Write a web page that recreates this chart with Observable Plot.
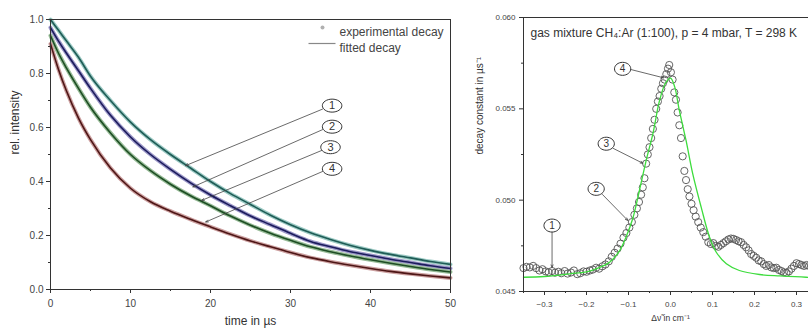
<!DOCTYPE html>
<html>
<head>
<meta charset="utf-8">
<script src="https://cdn.jsdelivr.net/npm/d3@7"></script>
<script src="https://cdn.jsdelivr.net/npm/@observablehq/plot@0.6"></script>
<style>
  html, body { margin: 0; padding: 0; background: #fff; overflow: hidden; }
  #wrap { position: relative; width: 808px; height: 332px; overflow: hidden; }
  #left { position: absolute; left: 0; top: 0; width: 460px; height: 332px; }
  #right { position: absolute; left: 460px; top: 0; width: 369px; height: 332px; }
  #wrap svg { max-width: none !important; display: block; }
</style>
</head>
<body>
<div id="wrap"><div id="left"></div><div id="right"></div></div>
<script>
// ---------- Left panel data: relative intensity vs time (µs) ----------
const times  = [0, 1, 2, 3.5, 5, 7.5, 10, 12.5, 15, 17.5, 20, 22.5, 25, 27.5, 30, 32.5, 35, 37.5, 40, 42.5, 45, 47.5, 50];
const decay1 = [1.00, 0.96, 0.92, 0.86, 0.79, 0.70, 0.62, 0.555, 0.50, 0.45, 0.40, 0.355, 0.315, 0.275, 0.24, 0.21, 0.185, 0.163, 0.145, 0.13, 0.117, 0.104, 0.093];
const decay2 = [0.97, 0.92, 0.875, 0.81, 0.745, 0.645, 0.565, 0.50, 0.445, 0.395, 0.35, 0.31, 0.272, 0.24, 0.208, 0.178, 0.158, 0.14, 0.126, 0.112, 0.10, 0.088, 0.078];
const decay3 = [0.94, 0.875, 0.82, 0.745, 0.675, 0.58, 0.50, 0.44, 0.39, 0.347, 0.31, 0.272, 0.238, 0.208, 0.182, 0.158, 0.14, 0.124, 0.11, 0.097, 0.085, 0.074, 0.065];
const decay4 = [0.91, 0.815, 0.735, 0.635, 0.555, 0.45, 0.375, 0.325, 0.29, 0.26, 0.232, 0.205, 0.18, 0.158, 0.137, 0.118, 0.103, 0.09, 0.078, 0.067, 0.058, 0.05, 0.043];
const curveIds = ["1", "2", "3", "4"];
const lightColors = ["#9ccac4", "#9c98c8", "#98bc98", "#cca0a0"];
const darkColors  = ["#1f5c56", "#1c1c5c", "#1e4e24", "#4e1616"];
const legendLabels = ["experimental decay", "fitted decay"];
const xTicksLeft = [0, 10, 20, 30, 40, 50];
const xMinorLeft = [5, 15, 25, 35, 45];
const yTicksLeft = [0, 0.2, 0.4, 0.6, 0.8, 1.0];
const yMinorLeft = [0.1, 0.3, 0.5, 0.7, 0.9];
// annotation callouts (left)
const leftLabelT = [35.2, 35.2, 35.0, 35.2];
const leftLabelV = [0.681, 0.603, 0.527, 0.447];
const leftArrowT1 = [34.0, 34.0, 33.9, 34.0];
const leftArrowV1 = [0.668, 0.592, 0.515, 0.437];
const leftArrowT2 = [16.9, 17.8, 18.9, 19.4];
const leftArrowV2 = [0.459, 0.380, 0.330, 0.250];

// ---------- Right panel data: decay constant vs detuning ----------
const expX = [-0.350,-0.343,-0.335,-0.327,-0.320,-0.312,-0.305,-0.297,-0.290,-0.282,-0.275,-0.267,-0.260,-0.252,-0.245,-0.237,-0.230,-0.222,-0.215,-0.207,-0.200,-0.192,-0.185,-0.177,-0.170,-0.162,-0.155,-0.147,-0.140,-0.133,-0.126,-0.119,-0.112,-0.105,-0.098,-0.092,-0.086,-0.080,-0.075,-0.070,-0.066,-0.062,-0.058,-0.054,-0.050,-0.046,-0.042,-0.038,-0.034,-0.030,-0.026,-0.022,-0.018,-0.014,-0.010,-0.006,-0.003,0.001,0.005,0.009,0.013,0.017,0.021,0.025,0.029,0.033,0.037,0.041,0.045,0.050,0.055,0.060,0.066,0.072,0.078,0.084,0.090,0.096,0.102,0.108,0.114,0.120,0.126,0.132,0.138,0.144,0.150,0.156,0.162,0.168,0.174,0.180,0.186,0.192,0.198,0.204,0.210,0.216,0.222,0.228,0.234,0.240,0.246,0.252,0.258,0.264,0.270,0.276,0.282,0.288,0.294,0.300,0.306,0.312,0.318,0.324,0.330,0.336,0.342,0.348];
const expK = [0.04628,0.04635,0.04632,0.04640,0.04628,0.04615,0.04622,0.04610,0.04605,0.04612,0.04603,0.04608,0.04600,0.04612,0.04598,0.04604,0.04615,0.04595,0.04600,0.04610,0.04608,0.04615,0.04620,0.04630,0.04625,0.04638,0.04648,0.04665,0.04690,0.04712,0.04735,0.04762,0.04795,0.04820,0.04850,0.04880,0.04920,0.04955,0.04990,0.05030,0.05070,0.05120,0.05200,0.05250,0.05290,0.05340,0.05390,0.05440,0.05500,0.05540,0.05570,0.05610,0.05640,0.05660,0.05690,0.05720,0.05740,0.05700,0.05660,0.05590,0.05550,0.05480,0.05410,0.05340,0.05240,0.05160,0.05110,0.05060,0.05020,0.04980,0.04945,0.04910,0.04880,0.04850,0.04825,0.04800,0.04770,0.04760,0.04765,0.04750,0.04745,0.04755,0.04765,0.04775,0.04785,0.04790,0.04788,0.04782,0.04775,0.04770,0.04755,0.04742,0.04725,0.04705,0.04695,0.04685,0.04670,0.04665,0.04650,0.04640,0.04645,0.04632,0.04628,0.04630,0.04618,0.04612,0.04605,0.04602,0.04610,0.04625,0.04640,0.04655,0.04650,0.04645,0.04640,0.04645,0.04640,0.04648,0.04642,0.04645];
const fitX = [-0.35,-0.30,-0.24,-0.20,-0.177,-0.145,-0.121,-0.106,-0.090,-0.074,-0.058,-0.042,-0.026,-0.012,0.0,0.010,0.021,0.037,0.053,0.073,0.093,0.109,0.133,0.164,0.212,0.26,0.323,0.35];
const fitK = [0.04578,0.04582,0.04597,0.04608,0.04624,0.04660,0.04724,0.04797,0.04898,0.05053,0.05217,0.05363,0.05546,0.05640,0.05668,0.05620,0.05491,0.05327,0.05144,0.04962,0.04797,0.04715,0.04652,0.04615,0.04593,0.04585,0.04578,0.04578];
const xTicksRight = [-0.3, -0.2, -0.1, 0.0, 0.1, 0.2, 0.3];
const xMinorRight = [-0.35, -0.25, -0.15, -0.05, 0.05, 0.15, 0.25, 0.35];
const yTicksRight = [0.045, 0.050, 0.055, 0.060];
const yMinorRight = [0.0475, 0.0525, 0.0575];
const rightTitle = "gas mixture CH\u2084:Ar (1:100), p = 4 mbar, T = 298 K";
// annotation callouts (right)
const rightLabelX = [-0.282, -0.177, -0.153, -0.114];
const rightLabelK = [0.04861, 0.05062, 0.05309, 0.05719];
const rightArrowX1 = [-0.282, -0.162, -0.136, -0.094];
const rightArrowK1 = [0.04826, 0.05031, 0.05283, 0.05715];
const rightArrowX2 = [-0.282, -0.1016, -0.0659, -0.0167];
const rightArrowK2 = [0.04632, 0.04889, 0.05202, 0.05670];

// ---------- helpers ----------
const FONT = "'Liberation Sans', Arial, Helvetica, sans-serif";
const ellipse = (k) => ({
  draw(ctx, size) {
    const r = Math.sqrt(size / Math.PI), rx = r * k, ry = r, c = 0.5523;
    ctx.moveTo(rx, 0);
    ctx.bezierCurveTo(rx, ry * c, rx * c, ry, 0, ry);
    ctx.bezierCurveTo(-rx * c, ry, -rx, ry * c, -rx, 0);
    ctx.bezierCurveTo(-rx, -ry * c, -rx * c, -ry, 0, -ry);
    ctx.bezierCurveTo(rx * c, -ry, rx, -ry * c, rx, 0);
    ctx.closePath();
  }
});
const hline = { draw(ctx, size) { const r = Math.sqrt(size / Math.PI); ctx.moveTo(-r, 0); ctx.lineTo(r, 0); } };

// ---------- Left plot ----------
const curveValues = [decay1, decay2, decay3, decay4];
const curveMarks = [];
curveValues.forEach((vals, j) => {
  const rows = times.map((t, i) => ({ t, v: vals[i] }));
  curveMarks.push(Plot.line(rows, { x: "t", y: "v", stroke: lightColors[j], strokeWidth: 4, curve: "monotone-x" }));
  curveMarks.push(Plot.line(rows, { x: "t", y: "v", stroke: darkColors[j], strokeWidth: 1.6, curve: "monotone-x" }));
});
const leftAnn = curveIds.map((id, i) => ({
  id, t: leftLabelT[i], v: leftLabelV[i],
  t1: leftArrowT1[i], v1: leftArrowV1[i], t2: leftArrowT2[i], v2: leftArrowV2[i]
}));

const left = Plot.plot({
  width: 460, height: 332,
  marginLeft: 50, marginRight: 10, marginTop: 19, marginBottom: 43,
  x: { domain: [0, 50] },
  y: { domain: [0, 1] },
  style: { fontFamily: FONT, fontSize: "10px", color: "#333", background: "white" },
  marks: [
    ...curveMarks,
    Plot.arrow(leftAnn, { x1: "t1", y1: "v1", x2: "t2", y2: "v2", stroke: "#444", strokeWidth: 0.8, headLength: 5, headAngle: 45 }),
    Plot.dot(leftAnn, { x: "t", y: "v", r: 6.5, symbol: ellipse(1.5), fill: "white", stroke: "#333", strokeWidth: 1 }),
    Plot.text(leftAnn, { x: "t", y: "v", text: "id", fontSize: 11, fill: "#333" }),
    // legend
    Plot.dot([legendLabels[0]], { frameAnchor: "top-left", dx: 272, dy: 8, r: 2, fill: "#b0b0b0", stroke: "none" }),
    Plot.text([legendLabels[0]], { frameAnchor: "top-left", dx: 289, dy: 8, text: d => d, textAnchor: "start", fontSize: 12, fill: "#444" }),
    Plot.dot([legendLabels[1]], { frameAnchor: "top-left", dx: 271.5, dy: 24, r: 13.5, symbol: hline, stroke: "#888", strokeWidth: 1.2, fill: "none" }),
    Plot.text([legendLabels[1]], { frameAnchor: "top-left", dx: 289, dy: 24, text: d => d, textAnchor: "start", fontSize: 12, fill: "#444" }),
    Plot.frame({ stroke: "#333", strokeWidth: 1 }),
    Plot.axisX({ ticks: xTicksLeft, tickSize: 4, tickPadding: 6, tickFormat: d3.format("d"), label: null, fill: "#444" }),
    Plot.axisX({ ticks: xMinorLeft, tickSize: 2, text: null, label: null }),
    Plot.axisY({ ticks: yTicksLeft, tickSize: 4, tickPadding: 3, tickFormat: d3.format(".1f"), label: null, fill: "#444" }),
    Plot.axisY({ ticks: yMinorLeft, tickSize: 2, text: null, label: null }),
    Plot.text(["time in µs"], { frameAnchor: "bottom", dy: 35, text: d => d, fontSize: 12, fill: "#333" }),
    Plot.text(["rel. intensity"], { frameAnchor: "left", dx: -35, rotate: -90, text: d => d, fontSize: 12, fill: "#333" })
  ]
});
document.getElementById("left").appendChild(left);

// ---------- Right plot ----------
const expRows = expX.map((x, i) => ({ x, k: expK[i] }));
const fitRows = fitX.map((x, i) => ({ x, k: fitK[i] }));
const rightAnn = curveIds.map((id, i) => ({
  id, x: rightLabelX[i], k: rightLabelK[i],
  x1: rightArrowX1[i], k1: rightArrowK1[i], x2: rightArrowX2[i], k2: rightArrowK2[i]
}));

const right = Plot.plot({
  width: 369, height: 332,
  marginLeft: 63, marginRight: 12, marginTop: 17, marginBottom: 41,
  x: { domain: [-0.35, 0.35] },
  y: { domain: [0.045, 0.060] },
  style: { fontFamily: FONT, fontSize: "8px", color: "#333", background: "white" },
  marks: [
    Plot.dot(expRows, { x: "x", y: "k", r: 3.6, fill: "none", stroke: "#555", strokeWidth: 0.9 }),
    Plot.line(fitRows, { x: "x", y: "k", stroke: "#3ddc3d", strokeWidth: 1.3, curve: "catmull-rom" }),
    Plot.arrow(rightAnn, { x1: "x1", y1: "k1", x2: "x2", y2: "k2", stroke: "#444", strokeWidth: 0.8, headLength: 5, headAngle: 45 }),
    Plot.dot(rightAnn, { x: "x", y: "k", r: 6.5, symbol: ellipse(1.25), fill: "white", stroke: "#333", strokeWidth: 1 }),
    Plot.text(rightAnn, { x: "x", y: "k", text: "id", fontSize: 10, fill: "#333" }),
    Plot.text([rightTitle], { frameAnchor: "top-left", dx: 7, dy: 11, text: d => d, textAnchor: "start", fontSize: 12, fill: "#333" }),
    Plot.frame({ stroke: "#333", strokeWidth: 1 }),
    Plot.axisX({ ticks: xTicksRight, tickSize: 4, tickPadding: 6, tickFormat: d3.format(".1f"), label: null, fill: "#444" }),
    Plot.axisX({ ticks: xMinorRight, tickSize: 2, text: null, label: null }),
    Plot.axisY({ ticks: yTicksRight, tickSize: 4, tickPadding: 4, tickFormat: d3.format(".3f"), label: null, fill: "#444" }),
    Plot.axisY({ ticks: yMinorRight, tickSize: 2, text: null, label: null }),
    Plot.text(["\u0394\u03BD\u0303 in cm\u207B\u00B9"], { frameAnchor: "bottom", dy: 29, text: d => d, fontSize: 8.5, fill: "#333" }),
    Plot.text(["decay constant in µs\u207B\u00B9"], { frameAnchor: "left", dx: -44, rotate: -90, text: d => d, fontSize: 10, fill: "#333" })
  ]
});
document.getElementById("right").appendChild(right);
</script>
</body>
</html>
